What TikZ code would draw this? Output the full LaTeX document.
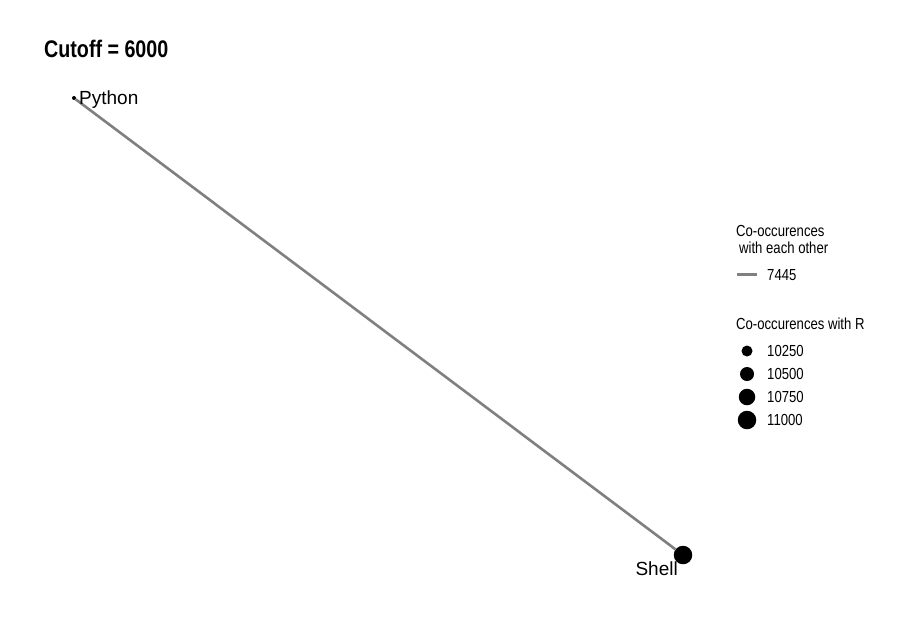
\documentclass[tikz,border=0pt]{standalone}
\usepackage{fontspec}
\setmainfont{Liberation Sans}
\newfontfamily\narrowfont[FakeStretch=0.82]{Liberation Sans}
\usetikzlibrary{positioning}

\begin{document}
\begin{tikzpicture}[x=1pt, y=-1pt,
  vertex/.style={circle, fill=black, inner sep=0pt},
  edgeline/.style={draw=gray, line width=2.6pt},
  vlabel/.style={font=\fontsize{19}{21}\selectfont, inner sep=0pt},
  legtext/.style={font=\narrowfont\fontsize{16}{18}\selectfont, inner sep=0pt, anchor=base west}]
\fill[white] (0,0) rectangle (910,622);
\useasboundingbox (0,0) rectangle (910,622);

% title
\node[anchor=base west, inner sep=0pt, font=\narrowfont\bfseries\fontsize{24}{26}\selectfont] (title) at (44,57) {Cutoff = 6000};

% graph
\node[vertex, minimum size=4pt] (python) at (74,98) {};
\node[vertex, minimum size=18.5pt] (shell) at (683,555) {};
\draw[edgeline] (python) -- (shell);
\node[vlabel, anchor=base west] (pythonlbl) at (79,104) {Python};
\node[vlabel, anchor=base east] (shelllbl) at (678,575) {Shell};

% legend: edges
\node[legtext] (edgehead) at (736,236) {Co-occurences};
\node[legtext] (edgehead2) at (739,253) {with each other};
\coordinate (legA) at (737,274);
\coordinate (legB) at (757,274);
\draw[edgeline, line width=3pt] (legA) -- (legB);
\node[legtext] (leg7445) at (767,280) {7445};

% legend: node sizes
\node[legtext] (nodehead) at (736,329) {Co-occurences with R};
\foreach \y/\d/\v in {351/11/10250, 374/14/10500, 397/16.5/10750, 420/18.5/11000} {
  \node[vertex, minimum size=\d pt] (dot\v) at (747,\y) {};
  \node[legtext] (leg\v) at (767,\y+5.5) {\v};
}
\end{tikzpicture}
\end{document}
